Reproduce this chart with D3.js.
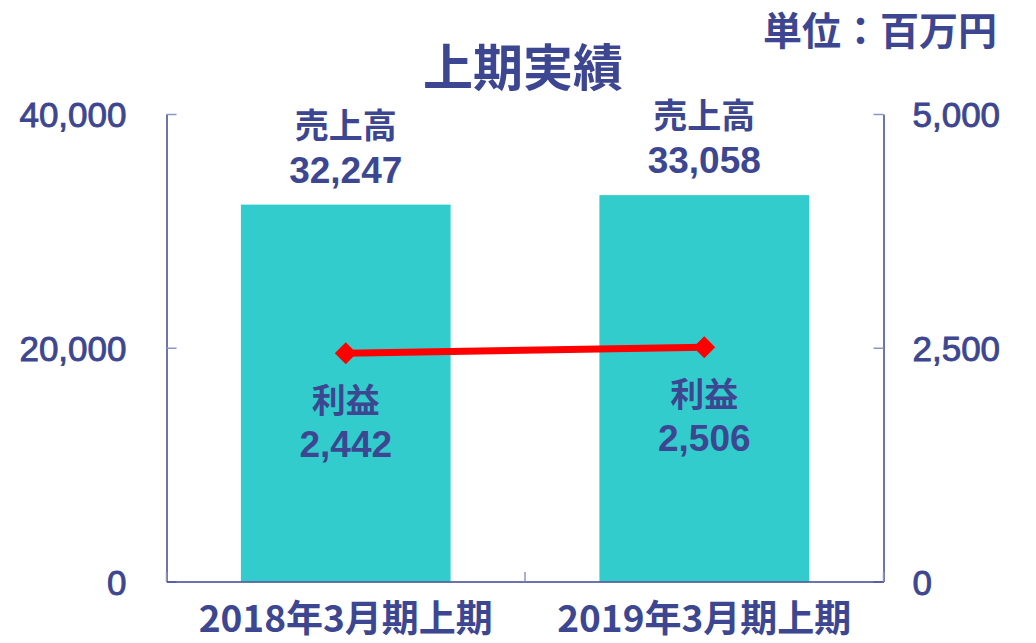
<!DOCTYPE html>
<html>
<head>
<meta charset="utf-8">
<script src="https://cdn.jsdelivr.net/npm/d3@7"></script>
<style>
  body { margin: 0; background: #fff; }
  text { fill: #3d4690; }
</style>
</head>
<body>
<div id="chart-area"></div>
<script>
// data
var categories = ["2018年3月期上期", "2019年3月期上期"];
var sales = [32247, 33058];
var profit = [2442, 2506];
var leftTicks = [0, 20000, 40000];
var rightTicks = [0, 2500, 5000];
var salesLabel = "売上高";
var profitLabel = "利益";
var title = "上期実績";
var unitText = "単位：百万円";

var navy = "#3d4690";
var fmt = d3.format(",");

const svg = d3.select("#chart-area").append("svg")
  .attr("width", 1036)
  .attr("height", 643);

var x = d3.scaleBand().domain(categories).range([166.5, 883.5]).padding(0);
var barW = x.bandwidth() * 0.585;
var yL = d3.scaleLinear().domain([0, 40000]).range([581.5, 114]);
var yR = d3.scaleLinear().domain([0, 5000]).range([581.5, 114]);

// bars
svg.append("g").selectAll("rect")
  .data(sales).enter().append("rect")
  .attr("x", function (d, i) { return x(categories[i]) + (x.bandwidth() - barW) / 2; })
  .attr("y", function (d) { return yL(d); })
  .attr("width", barW)
  .attr("height", function (d) { return yL(0) - yL(d); })
  .attr("fill", "#33cccc");

// left axis
var axisL = d3.axisLeft(yL).tickValues(leftTicks).tickFormat(fmt)
  .tickSizeInner(-10).tickSizeOuter(0).tickPadding(40);
var gL = svg.append("g").attr("transform", "translate(166.5,0)").call(axisL);

// right axis
var axisR = d3.axisRight(yR).tickValues(rightTicks).tickFormat(fmt)
  .tickSizeInner(-10).tickSizeOuter(0).tickPadding(29);
var gR = svg.append("g").attr("transform", "translate(883.5,0)").call(axisR);

[gL, gR].forEach(function (g) {
  g.select(".domain").attr("stroke", navy).attr("stroke-width", 1.5);
  g.selectAll(".tick line").attr("stroke", "#8f94c4").attr("stroke-width", 1.5);
  g.selectAll(".tick text")
    .attr("fill", navy)
    .attr("stroke", navy)
    .attr("stroke-width", 0.9)
    .style("font-family", "'Liberation Sans', Arial, sans-serif")
    .style("font-size", "35px")
    .attr("dy", "0.36em");
});

// bottom axis
var axisB = d3.axisBottom(x).tickSize(0).tickPadding(0);
var gB = svg.append("g").attr("transform", "translate(0,581.5)").call(axisB);
gB.select(".domain").attr("stroke", navy).attr("stroke-width", 1.5);
gB.selectAll(".tick text")
  .attr("fill", navy)
  .attr("dy", 0)
  .attr("y", 50.5)
  .style("font-family", "'Noto Sans CJK JP', sans-serif")
  .style("font-weight", "bold")
  .style("font-size", "37px");

// category separators
var seps = categories.map(function (c) { return x(c); }).concat([x.range()[1]]);
svg.append("g").selectAll("line")
  .data(seps).enter().append("line")
  .attr("x1", function (d) { return d; })
  .attr("x2", function (d) { return d; })
  .attr("y1", 581.5)
  .attr("y2", 572)
  .attr("stroke", "#8f94c4")
  .attr("stroke-width", 1.5);

// profit line
var line = d3.line()
  .x(function (d, i) { return x(categories[i]) + x.bandwidth() / 2; })
  .y(function (d) { return yR(d); });

svg.append("path")
  .datum(profit)
  .attr("d", line)
  .attr("fill", "none")
  .attr("stroke", "#ff0000")
  .attr("stroke-width", 7);

svg.append("g").selectAll("path")
  .data(profit).enter().append("path")
  .attr("d", d3.symbol().type(d3.symbolSquare).size(240))
  .attr("transform", function (d, i) {
    return "translate(" + (x(categories[i]) + x.bandwidth() / 2) + "," + yR(d) + ") rotate(45)";
  })
  .attr("fill", "#ff0000");

// sales labels
var sl = svg.append("g").attr("text-anchor", "middle");
sl.selectAll(".sname")
  .data(sales).enter().append("text")
  .attr("x", function (d, i) { return x(categories[i]) + x.bandwidth() / 2; })
  .attr("y", function (d) { return yL(d) - 67; })
  .style("font-family", "'Noto Sans CJK JP', sans-serif")
  .style("font-weight", "bold")
  .style("font-size", "34px")
  .text(salesLabel);
sl.selectAll(".sval")
  .data(sales).enter().append("text")
  .attr("x", function (d, i) { return x(categories[i]) + x.bandwidth() / 2; })
  .attr("y", function (d) { return yL(d) - 22; })
  .style("font-family", "'Liberation Sans', Arial, sans-serif")
  .style("font-weight", "bold")
  .style("font-size", "37px")
  .text(function (d) { return fmt(d); });

// profit labels
var pl = svg.append("g").attr("text-anchor", "middle");
pl.selectAll(".pname")
  .data(profit).enter().append("text")
  .attr("x", function (d, i) { return x(categories[i]) + x.bandwidth() / 2; })
  .attr("y", function (d) { return yR(d) + 60; })
  .style("font-family", "'Noto Sans CJK JP', sans-serif")
  .style("font-weight", "bold")
  .style("font-size", "34px")
  .text(profitLabel);
pl.selectAll(".pval")
  .data(profit).enter().append("text")
  .attr("x", function (d, i) { return x(categories[i]) + x.bandwidth() / 2; })
  .attr("y", function (d) { return yR(d) + 104; })
  .style("font-family", "'Liberation Sans', Arial, sans-serif")
  .style("font-weight", "bold")
  .style("font-size", "37px")
  .text(function (d) { return fmt(d); });

// title and unit
svg.append("text")
  .attr("x", 523).attr("y", 86)
  .attr("text-anchor", "middle")
  .style("font-family", "'Noto Sans CJK JP', sans-serif")
  .style("font-weight", "bold")
  .style("font-size", "50px")
  .text(title);

svg.append("text")
  .attr("x", 997).attr("y", 45)
  .attr("text-anchor", "end")
  .style("font-family", "'Noto Sans CJK JP', sans-serif")
  .style("font-weight", "bold")
  .style("font-size", "39px")
  .text(unitText);
</script>
</body>
</html>
